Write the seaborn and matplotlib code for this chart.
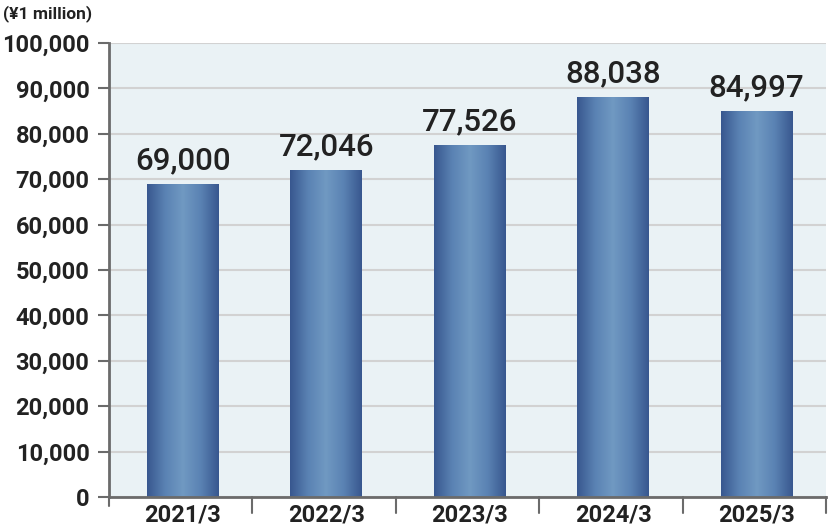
import numpy as np
import pandas as pd
import matplotlib
matplotlib.use("Agg")
import matplotlib.pyplot as plt
import seaborn as sns
from matplotlib.colors import LinearSegmentedColormap

categories = ["2021/3", "2022/3", "2023/3", "2024/3", "2025/3"]
values = [69000, 72046, 77526, 88038, 84997]
yticks = list(range(0, 100001, 10000))
unit_label = "(¥1 million)"

sns.set_theme(style="white")
plt.rcParams['font.family'] = ['Roboto', 'DejaVu Sans']

df = pd.DataFrame({"year": categories, "value": values})

fig = plt.figure(figsize=(8.3, 5.3), dpi=100)
ax = fig.add_axes([109/830, 33/530, (826-109)/830, (497-43)/530])
ax.set_facecolor("#eaf2f5")

sns.barplot(data=df, x="year", y="value", ax=ax, width=0.5, color="#3a5a92",
            edgecolor="none", zorder=3)

cmap = LinearSegmentedColormap.from_list("g", ["#38578f", "#5a82b3", "#7099c2", "#5a82b3", "#38578f"])
grad = np.linspace(0, 1, 256).reshape(1, -1)
for p in ax.patches:
    p.set_x(p.get_x() + 0.015)
    x0, y0 = p.get_x(), p.get_y()
    w, h = p.get_width(), p.get_height()
    im = ax.imshow(grad, cmap=cmap, extent=[x0, x0 + w, y0, y0 + h], aspect="auto", zorder=4)
    im.set_clip_path(p)

ax.set_xlim(-0.5, len(categories) - 0.5)
ax.set_ylim(0, 100000)
ax.set_yticks(yticks)
ax.set_yticklabels([f"{v:,}" for v in yticks])
ax.yaxis.grid(True, color="#d2d2d2", linewidth=1.5, zorder=0)
ax.set_axisbelow(True)

ax.set_xticks(np.arange(len(categories)) + 0.015)
ax.set_xticklabels(categories)
ax.tick_params(axis="x", length=0, pad=5)
# boundary ticks
for b in np.arange(0.5, len(categories), 1.0):
    ax.plot([b, b], [0, -0.035], transform=ax.get_xaxis_transform(), color="#6b6b6b",
            linewidth=1.5, clip_on=False, zorder=5)
ax.plot([-0.5, -0.5], [0, -0.02], transform=ax.get_xaxis_transform(), color="#6b6b6b",
        linewidth=1.5, clip_on=False, zorder=5)

ax.tick_params(axis="y", length=8, width=1.5, color="#6b6b6b", pad=6, left=True)
for lab in ax.get_yticklabels() + ax.get_xticklabels():
    lab.set_fontsize(17)
    lab.set_fontweight("bold")
    lab.set_color("#222222")

for s in ["top", "right"]:
    ax.spines[s].set_visible(False)
for s in ["left", "bottom"]:
    ax.spines[s].set_color("#6b6b6b")
    ax.spines[s].set_linewidth(2)
    ax.spines[s].set_zorder(6)

for i, v in enumerate(values):
    ax.text(i + 0.015, v + 1900, f"{v:,}", ha="center", va="bottom", fontsize=22.5,
            fontweight="medium", color="#222222", zorder=7)

ax.set_xlabel("")
ax.set_ylabel("")
fig.text(3/830, 1 - 14/530, unit_label, ha="left", va="center", fontsize=12.5,
         fontweight="bold", color="#222222")

fig.savefig("out.png", dpi=100)
